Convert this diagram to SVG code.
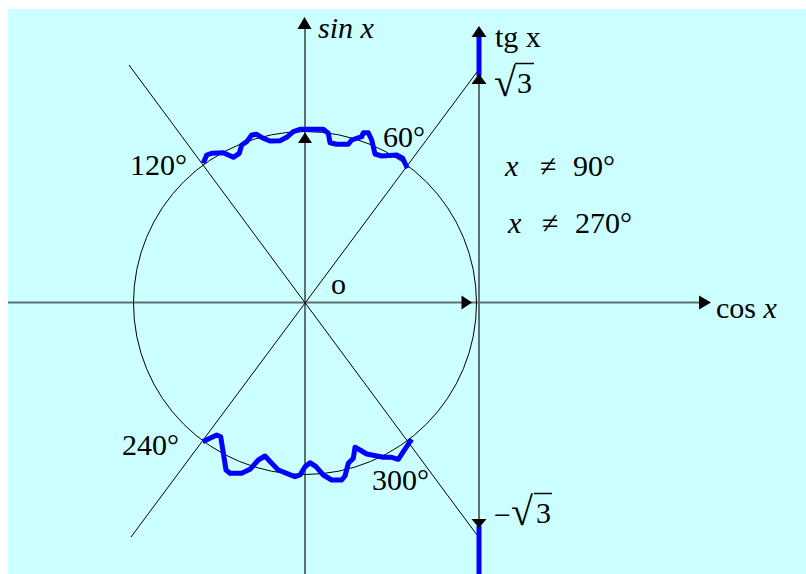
<svg xmlns="http://www.w3.org/2000/svg" width="806" height="574" viewBox="0 0 806 574">
<style>
.axis{stroke:#5f7272;stroke-width:2;fill:none}
.thin{stroke:#000;stroke-width:1;fill:none}
.blue{stroke:#0000ff;stroke-width:5;fill:none;stroke-linejoin:round}
.head{fill:#000;stroke:none}
.t{font-family:"Liberation Serif","Times New Roman",serif;font-size:30px;fill:#000}
.i{font-style:italic}
.rad{font-size:40px}
.bar{stroke:#000;stroke-width:1.5}
</style>
<rect x="0" y="0" width="806" height="574" fill="#ffffff"/>
<rect x="8" y="9" width="798" height="565" fill="#ccffff"/>
<g id="connectors">
<line class="axis" x1="8" y1="302.5" x2="702" y2="302.5"/>
<line class="axis" x1="305" y1="574" x2="305" y2="26"/>
<line class="axis" x1="479" y1="574" x2="479" y2="35"/>
<circle class="thin" cx="305" cy="303" r="171.5"/>
<line class="thin" x1="129" y1="65" x2="477" y2="535"/>
<line class="thin" x1="131" y1="537" x2="477" y2="72"/>
<line class="blue" x1="479" y1="35" x2="479" y2="76"/>
<line class="blue" x1="479" y1="526" x2="479" y2="574"/>
<polyline class="blue" points="203.3,163.3 206.7,155 211.7,153.3 223.3,152.7 233.3,157.3 239.3,153.3 241.7,145 246.7,141.7 251.7,135 256.7,134.3 263.3,138.3 270,141 280,140.7 286.7,137.3 293.3,131.7 300,129.3 323.3,129.3 328.3,133.3 330,142.7 336.7,144.3 348.3,144.3 351.7,140 361.7,136.7 363.3,132.7 368.3,132.7 371.7,140 375,154 381.7,156 396.7,155 402.7,158.3 407.3,168.3"/>
<polyline class="blue" points="202.7,441.7 216.7,435 220.7,436.7 226,470 230,473.3 241.7,473.3 250,469.3 258.3,460 265,456 271.7,463.3 278.3,470 286.7,473.3 295,476.7 300,475 305,466.7 310,462.7 316,466.7 323.3,475 331.7,480 341.7,480 345,476 348.3,463.3 353.3,458.3 355,447.3 360,450 366.7,454 383.3,457.3 391.7,457.3 398.3,459.3 403.3,451.7 410,441.7 411.7,439.3"/>
<polygon class="head" points="304.5,17 297.5,29 311.5,29"/>
<polygon class="head" points="305,132.5 298,143 312,143"/>
<polygon class="head" points="472,302.5 461.5,295.5 461.5,309.5"/>
<polygon class="head" points="711,302.5 699,295.5 699,309.5"/>
<polygon class="head" points="479,26 471.5,37 486.5,37"/>
<polygon class="head" points="479,73.5 471.5,84 486.5,84"/>
<polygon class="head" points="479,528 471.5,519 486.5,519"/>
</g>
<g id="label-sin"><text class="t i" x="318" y="38">sin x</text></g>
<g id="label-cos"><text class="t" x="716" y="318">cos <tspan class="i">x</tspan></text></g>
<g id="label-tg"><text class="t" x="495" y="47">tg x</text></g>
<g id="label-sqrt3"><text class="t" x="494" y="96"><tspan class="rad">√</tspan><tspan x="517" y="93">3</tspan></text><line class="bar" x1="515" y1="63.5" x2="534" y2="63.5"/></g>
<g id="label-neg-sqrt3"><text class="t" x="494" y="525">−<tspan class="rad">√</tspan><tspan x="536" y="523">3</tspan></text><line class="bar" x1="534" y1="493.5" x2="552" y2="493.5"/></g>
<g id="label-o"><text class="t" x="331" y="294">o</text></g>
<g id="label-60"><text class="t" x="383" y="147">60°</text></g>
<g id="label-120"><text class="t" x="130" y="175">120°</text></g>
<g id="label-240"><text class="t" x="122" y="455">240°</text></g>
<g id="label-300"><text class="t" x="372" y="490">300°</text></g>
<g id="cond-90"><text class="t" x="505" y="176"><tspan class="i">x</tspan><tspan x="540">≠</tspan><tspan x="573">90°</tspan></text></g>
<g id="cond-270"><text class="t" x="508" y="233"><tspan class="i">x</tspan><tspan x="542">≠</tspan><tspan x="575">270°</tspan></text></g>
</svg>
